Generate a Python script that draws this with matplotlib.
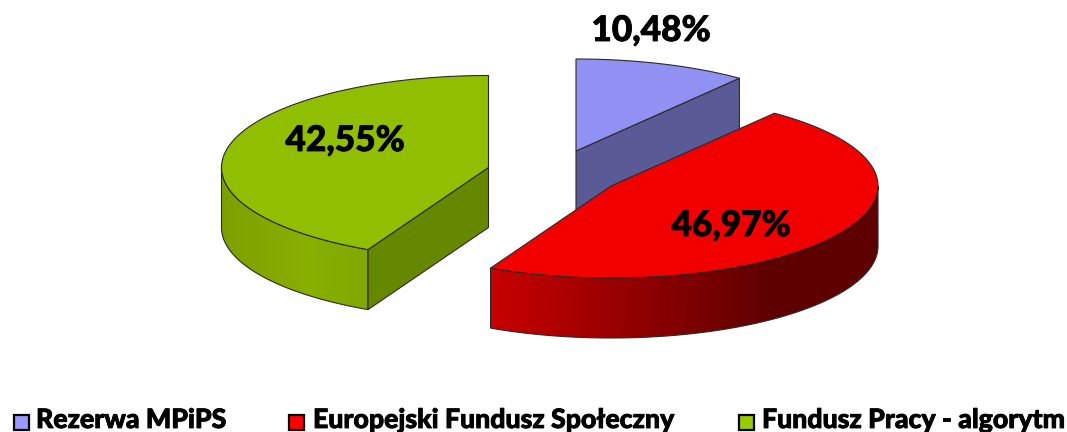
#!/usr/bin/env python
"""
Exploded 3D style pie chart, drawn in pixel coordinates of the picture.
"""
import numpy as np
import matplotlib
matplotlib.use('Agg')
import matplotlib.pyplot as plt
import matplotlib.patheffects as pe
from matplotlib.colors import LinearSegmentedColormap
from matplotlib.patches import Polygon, Rectangle

categories = ['Rezerwa MPiPS', 'Europejski Fundusz Społeczny', 'Fundusz Pracy - algorytm']
shares = [10.48, 46.97, 42.55]
share_labels = ['10,48%', '46,97%', '42,55%']

top_colors = ['#9191F3', '#F20000', '#8FBF00']
cut_colors = ['#5A5A96', '#600000', '#668800']
legend_colors = ['#9999FF', '#FF0000', '#99CC00']
centers = [(576, 151), (611, 186), (488.5, 167.5)]
label_pos = [(651, 31), (731, 226), (345, 141)]
legend_x = [13.5, 288.5, 738.5]
legend_text_x = [36, 313, 762]

RX, RY, DEPTH = 267, 92, 60
EDGE = '#2A2A2A'

plt.rcParams['font.family'] = ['Lato', 'DejaVu Sans']

fig = plt.figure(figsize=(10.67, 4.32), dpi=100, facecolor='white')
ax = fig.add_axes([0, 0, 1, 1])
ax.set_xlim(0, 1067)
ax.set_ylim(432, 0)
ax.axis('off')

heavy = [pe.withStroke(linewidth=0.6, foreground='black')]


def rim(center, a0, a1, drop=0):
    # angles in radians, clockwise from 12 o'clock
    t = np.linspace(a0, a1, 200)
    return np.column_stack([center[0] + RX * np.sin(t),
                            center[1] - RY * np.cos(t) + drop])


def side_face(center, a0, a1, colors, zo):
    # outer wall of a slice, shaded from left to right
    pts = np.vstack([rim(center, a0, a1), rim(center, a1, a0, DEPTH)])
    x0, x1 = pts[:, 0].min(), pts[:, 0].max()
    y0, y1 = pts[:, 1].min(), pts[:, 1].max()
    cmap = LinearSegmentedColormap.from_list('side', colors)
    im = ax.imshow(np.linspace(0, 1, 256)[None, :], cmap=cmap, aspect='auto',
                   extent=[x0, x1, y1, y0], zorder=zo)
    patch = Polygon(pts, closed=True, fc='none', ec=EDGE, lw=0.8, zorder=zo + 0.1)
    ax.add_patch(patch)
    im.set_clip_path(patch)


bounds = np.radians(np.concatenate([[0], np.cumsum(shares)]) * 3.6)
red_ramp = [(0, '#C80000'), (0.72, '#5E0000'), (1, '#5E0000')]
green_ramp = [(0, '#7DA000'), (0.6, '#88B000'), (1, '#80A800')]

# blue goes first, red sits on top of it
for zo, i in zip([1, 3, 2], range(3)):
    a0, a1 = bounds[i], bounds[i + 1]
    c = centers[i]
    if i == 1:
        side_face(c, np.pi / 2, a1, red_ramp, zo)
    if i == 2:
        side_face(c, a0, 1.5 * np.pi, green_ramp, zo)
    if i != 1:
        # straight cut face towards the viewer
        a = a1 if i == 0 else a0
        tip = rim(c, a, a)[0]
        face = [c, tip, (tip[0], tip[1] + DEPTH), (c[0], c[1] + DEPTH)]
        ax.add_patch(Polygon(face, closed=True, fc=cut_colors[i], ec=EDGE,
                             lw=0.8, zorder=zo + 0.2))
    top = np.vstack([[c], rim(c, a0, a1)])
    ax.add_patch(Polygon(top, closed=True, fc=top_colors[i], ec=EDGE, lw=0.8,
                         zorder=zo + 0.3))
    ax.text(label_pos[i][0], label_pos[i][1], share_labels[i], fontsize=25.4,
            fontweight=900, color='black', ha='center', va='center', zorder=5,
            path_effects=heavy)

for i in range(3):
    ax.add_patch(Rectangle((legend_x[i], 414.5), 15, 15, fc=legend_colors[i],
                           ec='black', lw=1.6, zorder=5))
    ax.text(legend_text_x[i], 428, categories[i], fontsize=19.2, fontweight=900,
            color='black', ha='left', va='baseline', zorder=5, path_effects=heavy)

fig.savefig('out.png', dpi=100)
